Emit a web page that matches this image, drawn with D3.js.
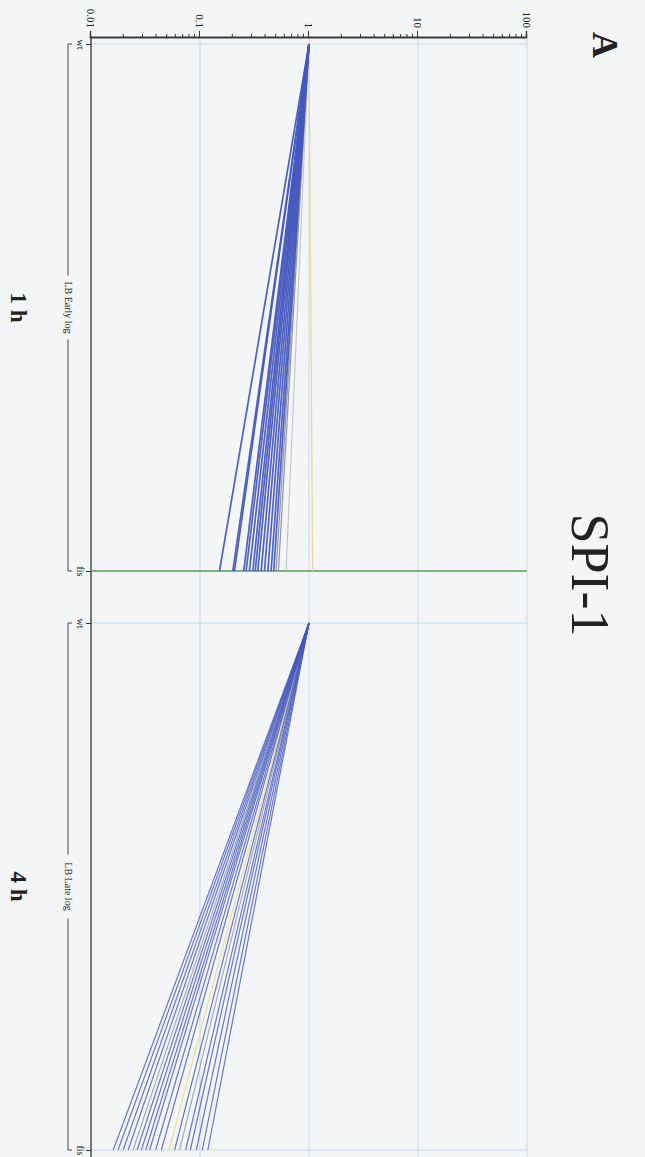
<!DOCTYPE html>
<html>
<head>
<meta charset="utf-8">
<script src="https://cdn.jsdelivr.net/npm/d3@7"></script>
<style>
html,body{margin:0;padding:0;background:#f4f5f6;}
svg{display:block;}
text{font-family:"Liberation Serif","DejaVu Serif",serif;fill:#222;}
</style>
</head>
<body>
<svg id="chart" width="645" height="1157"></svg>
<script>
// ---- data ----
const categories = ["wt", "fis"];
const panelLabels = ["LB Early log", "LB Late log"];
const timeLabels = ["1 h", "4 h"];
const tickLabels = ["0.01", "0.1", "1", "10", "100"];
const wtValue = 1;
// fold change of fis vs wt (1 h, LB early log)
const earlyFis = [0.151, 0.200, 0.207, 0.252, 0.265, 0.284, 0.305, 0.321, 0.339, 0.364, 0.390, 0.419, 0.449, 0.475, 0.499, 0.524, 0.616, 1.08];
const earlyGroup = ["down","down","down","down","down","down","down","down","down","down","down","down","down","down","weak","weak","none","ref"];
// fold change of fis vs wt (4 h, LB late log)
const lateFis = [0.0160, 0.0177, 0.0197, 0.0219, 0.0243, 0.0265, 0.0290, 0.0318, 0.0345, 0.0392, 0.0442, 0.0520, 0.0585, 0.0650, 0.0738, 0.0815, 0.0925, 0.105, 0.118];
const lateGroup = ["down","down","down","down","weak","down","down","down","down","down","down","ref","down","weak","down","down","down","down","down"];

// ---- layout (drawn in an unrotated frame, then rotated 90° clockwise) ----
const W = 1157, H = 645;
const svg = d3.select("#chart");
const g = svg.append("g").attr("transform", "translate(645,0) rotate(90)");

const y = d3.scaleLog().domain([0.01, 100]).range([554, 118]);
const panelRanges = [[44, 571], [623, 1150]];
const xs = panelRanges.map(r => d3.scalePoint().domain(categories).range(r));
const color = d3.scaleOrdinal().domain(["down","weak","none","ref"])
  .range(["#4558bf", "#8a90a8", "#bfc2c2", "#e6d78a"]);
const widthBy = [{down: 1.7, weak: 1.2, none: 1.1, ref: 1.2}, {down: 1.2, weak: 1.1, none: 1.0, ref: 1.2}];

// grid
const majors = tickLabels.map(Number);
g.append("g").selectAll("line").data(majors.slice(1)).join("line")
  .attr("x1", 37).attr("x2", W).attr("y1", d => y(d)).attr("y2", d => y(d))
  .attr("stroke", "#c9d8ea").attr("stroke-width", 1);
xs.forEach((x, i) => {
  g.append("g").selectAll("line").data(categories).join("line")
    .attr("x1", d => x(d)).attr("x2", d => x(d)).attr("y1", y(100)).attr("y2", y(0.01))
    .attr("stroke", "#c9d8ea").attr("stroke-width", 1);
});

// value axis
const minors = [];
for (let p = -2; p < 2; p++) for (let k = 2; k <= 9; k++) minors.push(k * Math.pow(10, p));
const axMinor = d3.axisLeft(y).tickValues(minors).tickSize(3).tickFormat("");
const axMajor = d3.axisLeft(y).tickValues(majors).tickSize(6).tickPadding(3)
  .tickFormat((d, i) => tickLabels[i]);
const ga = g.append("g").attr("transform", "translate(37,0)");
ga.call(axMinor);
ga.append("g").call(axMajor);
ga.selectAll("path.domain").attr("stroke", "#333").attr("stroke-width", 1.3);
ga.selectAll(".tick line").attr("stroke", "#333");
ga.selectAll(".tick text").attr("font-size", 11).attr("font-family", "Liberation Serif").attr("fill", "#222");

// baseline (category axis)
g.append("line").attr("x1", 37).attr("x2", W).attr("y1", y(0.01)).attr("y2", y(0.01))
  .attr("stroke", "#333").attr("stroke-width", 1.3);

// category axes, brackets
xs.forEach((x, i) => {
  const ax = d3.axisBottom(x).tickSize(5).tickPadding(2);
  const gc = g.append("g").attr("transform", `translate(0,${y(0.01)})`).call(ax);
  gc.select("path.domain").remove();
  gc.selectAll(".tick line").attr("stroke", "#333");
  gc.selectAll(".tick text").attr("font-size", 10).attr("font-family", "Liberation Serif").attr("fill", "#222");
  const r = x.range();
  const by = 577, mid = (r[0] + r[1]) / 2, half = 32;
  const br = g.append("g").attr("stroke", "#333").attr("stroke-width", 0.9).attr("fill", "none");
  br.append("path").attr("d", `M${r[0]},${by - 4}V${by}H${mid - half}`);
  br.append("path").attr("d", `M${mid + half},${by}H${r[1]}V${by - 4}`);
  g.append("text").attr("x", mid).attr("y", by + 3.5).attr("text-anchor", "middle")
    .attr("font-size", 10).text(panelLabels[i]);
  g.append("text").attr("x", mid).attr("y", 634).attr("text-anchor", "middle")
    .attr("font-size", 23).attr("font-weight", "bold").text(timeLabels[i]);
});

// separator line at early fis
g.append("line").attr("x1", xs[0]("fis")).attr("x2", xs[0]("fis"))
  .attr("y1", y(0.01)).attr("y2", y(100)).attr("stroke", "#5ba35b").attr("stroke-width", 1.6);

// profile lines
function drawLines(x, vals, groups, wb, op) {
  const rank = {none: 0, weak: 1, ref: 2, down: 3};
  const order = d3.range(vals.length).sort((a, b) => rank[groups[a]] - rank[groups[b]]);
  g.append("g").selectAll("line").data(order).join("line")
    .attr("x1", x("wt")).attr("y1", y(wtValue))
    .attr("x2", x("fis")).attr("y2", i => y(vals[i]))
    .attr("stroke", i => color(groups[i]))
    .attr("stroke-width", i => wb[groups[i]])
    .attr("stroke-opacity", op);
}
drawLines(xs[0], earlyFis, earlyGroup, widthBy[0], 0.95);
drawLines(xs[1], lateFis, lateGroup, widthBy[1], 0.8);

// titles
g.append("text").attr("x", 45).attr("y", 52).attr("text-anchor", "middle")
  .attr("font-size", 36).attr("font-weight", "bold").text("A");
g.append("text").attr("x", 575).attr("y", 73).attr("text-anchor", "middle")
  .attr("font-size", 54).text("SPI-1");
</script>
</body>
</html>
